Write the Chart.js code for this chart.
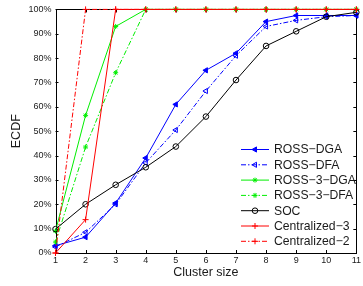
<!DOCTYPE html>
<html>
<head>
<meta charset="utf-8">
<script src="https://cdn.jsdelivr.net/npm/chart.js@4"></script>
<style>
  html, body { margin: 0; padding: 0; background: #fff; }
  canvas { display: block; }
</style>
</head>
<body>
<canvas id="ecdf" width="363" height="286"></canvas>
<script>
// cluster sizes and ECDF values (%)
const clusterSizes = [1, 2, 3, 4, 5, 6, 7, 8, 9, 10, 11];
const rossDga  = [3, 6.5, 20.5, 39, 61, 75, 82, 95, 97.5, 97.5, 97.5];
const rossDfa  = [2.5, 8.5, 20, 37, 50.5, 66.5, 81, 93, 95.5, 97, 97.5];
const ross3Dga = [9, 56.5, 93, 100, 100, 100, 100, 100, 100, 100, 100];
const ross3Dfa = [4.5, 43.5, 74, 100, 100, 100, 100, 100, 100, 100, 100];
const soc      = [9.8, 20, 28, 35.2, 43.7, 56, 71, 85, 91, 97, 98.8];
const central3 = [0, 13.7, 100, 100, 100, 100, 100, 100, 100, 100, 100];
const central2 = [0, 100, 100, 100, 100, 100, 100, 100, 100, 100, 100];

const xTicks = [1, 2, 3, 4, 5, 6, 7, 8, 9, 10, 11];
const yTicks = [0, 10, 20, 30, 40, 50, 60, 70, 80, 90, 100];
const yTickLabels = ['0%', '10%', '20%', '30%', '40%', '50%', '60%', '70%', '80%', '90%', '100%'];

const FONT = '"Liberation Sans", Arial, Helvetica, sans-serif';
const dashDot = [5, 2, 1.5, 2];

function pts(values) {
    return clusterSizes.map((x, i) => ({ x: x, y: values[i] }));
}

function series(label, values, color, dash, style, radius, fill, order) {
    return {
        label: label,
        data: pts(values),
        borderColor: color,
        backgroundColor: fill ? color : 'rgba(0,0,0,0)',
        borderWidth: 1,
        borderDash: dash,
        pointStyle: style,
        pointRotation: style === 'triangle' ? -90 : 0,
        pointRadius: radius,
        pointBorderWidth: 1,
        pointBorderColor: color,
        pointBackgroundColor: fill ? color : 'rgba(0,0,0,0)',
        tension: 0,
        clip: 6,
        order: order
    };
}

const datasets = [
    series('ROSS\u2212DGA', rossDga, '#0000ff', [], 'triangle', 3, true, 6),
    series('ROSS\u2212DFA', rossDfa, '#0000ff', dashDot, 'triangle', 3, false, 5),
    series('ROSS\u22123\u2212DGA', ross3Dga, '#00ee00', [], 'star', 2.5, false, 4),
    series('ROSS\u22123\u2212DFA', ross3Dfa, '#00ee00', dashDot, 'star', 2.5, false, 3),
    series('SOC', soc, '#000000', [], 'circle', 2.8, false, 2),
    series('Centralized\u22123', central3, '#ff0000', [], 'cross', 3, false, 1),
    series('Centralized\u22122', central2, '#ff0000', dashDot, 'cross', 3, false, 0)
];

// box and inward ticks go under the lines
const frame = {
    id: 'frame',
    beforeDatasetsDraw(chart) {
        const ctx = chart.ctx;
        const a = chart.chartArea;
        const xs = chart.scales.x, ys = chart.scales.y;
        ctx.save();
        ctx.strokeStyle = '#000';
        ctx.lineWidth = 1;
        ctx.strokeRect(Math.round(a.left) + 0.5, Math.round(a.top) + 0.5,
            Math.round(a.right - a.left) - 1, Math.round(a.bottom - a.top));
        ctx.beginPath();
        xTicks.forEach(v => {
            const px = Math.round(xs.getPixelForValue(v)) + 0.5;
            ctx.moveTo(px, a.bottom); ctx.lineTo(px, a.bottom - 3);
            ctx.moveTo(px, a.top); ctx.lineTo(px, a.top + 3);
        });
        yTicks.forEach(v => {
            const py = Math.round(ys.getPixelForValue(v)) + 0.5;
            ctx.moveTo(a.left, py); ctx.lineTo(a.left + 3, py);
            ctx.moveTo(a.right, py); ctx.lineTo(a.right - 3, py);
        });
        ctx.stroke();

        ctx.fillStyle = '#1a1a1a';
        ctx.font = '12.5px ' + FONT;
        ctx.textAlign = 'center';
        ctx.textBaseline = 'middle';
        ctx.fillText('Cluster size', (a.left + a.right) / 2, 273);
        ctx.translate(17, (a.top + a.bottom) / 2);
        ctx.rotate(-Math.PI / 2);
        ctx.fillText('ECDF', 0, 0);
        ctx.restore();
    }
};

// legend: short line sample with the marker in its middle
const lineLegend = {
    id: 'lineLegend',
    afterDraw(chart) {
        const ctx = chart.ctx;
        const lx0 = 241, lx1 = 269, tx = 274;
        let ly = 149;
        ctx.save();
        chart.data.datasets.forEach(ds => {
            ctx.strokeStyle = ds.borderColor;
            ctx.fillStyle = ds.pointBackgroundColor;
            ctx.lineWidth = 1;
            ctx.setLineDash(ds.borderDash);
            ctx.beginPath();
            ctx.moveTo(lx0, ly + 0.5);
            ctx.lineTo(lx1, ly + 0.5);
            ctx.stroke();
            ctx.setLineDash([]);
            Chart.helpers.drawPoint(ctx, {
                pointStyle: ds.pointStyle,
                rotation: ds.pointRotation,
                radius: ds.pointRadius,
                borderWidth: 1
            }, (lx0 + lx1) / 2, ly + 0.5);
            ctx.fillStyle = '#1a1a1a';
            ctx.font = '12.2px ' + FONT;
            ctx.textAlign = 'left';
            ctx.textBaseline = 'middle';
            ctx.fillText(ds.label, tx, ly + 1);
            ly += 15.3;
        });
        ctx.restore();
    }
};

new Chart(document.getElementById('ecdf'), {
    type: 'line',
    data: { datasets: datasets },
    options: {
        responsive: false,
        animation: false,
        devicePixelRatio: 1,
        layout: { autoPadding: false, padding: { left: 0, top: 8, right: 0.5, bottom: 0 } },
        plugins: { legend: { display: false }, tooltip: { enabled: false } },
        scales: {
            x: {
                type: 'linear',
                min: 1,
                max: 11,
                afterBuildTicks: s => { s.ticks = xTicks.map(v => ({ value: v })); },
                afterFit: s => { s.height = 33; },
                grid: { display: false, drawTicks: false },
                border: { display: false },
                ticks: { color: '#1a1a1a', font: { family: FONT, size: 9 }, padding: 2, maxRotation: 0, autoSkip: false }
            },
            y: {
                type: 'linear',
                min: 0,
                max: 100,
                afterBuildTicks: s => { s.ticks = yTicks.map(v => ({ value: v })); },
                afterFit: s => { s.width = 55.5; },
                grid: { display: false, drawTicks: false },
                border: { display: false },
                ticks: {
                    color: '#1a1a1a', font: { family: FONT, size: 9 }, padding: 4, autoSkip: false,
                    callback: (v) => yTickLabels[yTicks.indexOf(v)]
                }
            }
        }
    },
    plugins: [frame, lineLegend]
});
</script>
</body>
</html>
